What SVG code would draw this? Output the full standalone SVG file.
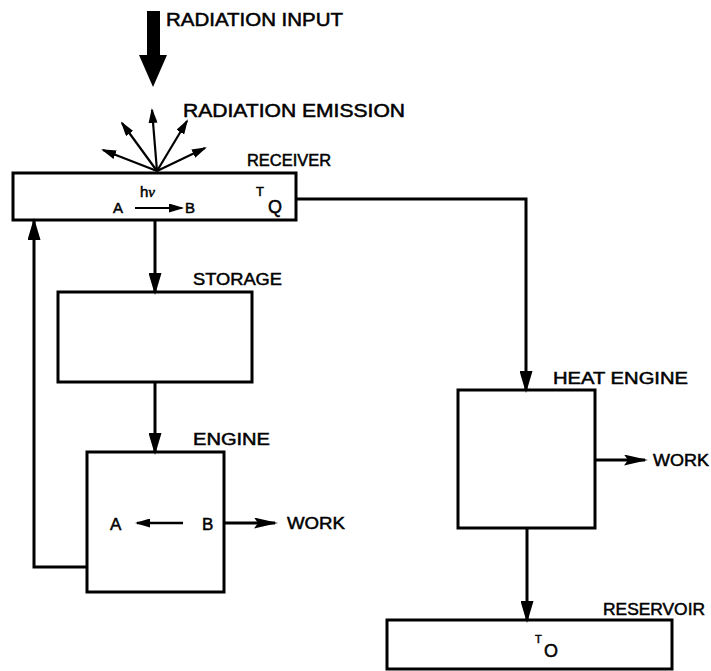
<svg xmlns="http://www.w3.org/2000/svg" width="711" height="671" viewBox="0 0 711 671">
<style>
.box{fill:#fff;stroke:#000;stroke-width:3}
.c{fill:none;stroke:#000;stroke-width:3}
.e{fill:none;stroke:#000;stroke-width:2.2}
.t{font-family:"Liberation Sans",Arial,sans-serif;fill:#000;stroke:#000;stroke-width:0.5}
</style>
<defs>
<marker id="ah" markerUnits="userSpaceOnUse" viewBox="0 0 22 13" markerWidth="22" markerHeight="13" refX="19" refY="6.5" orient="auto"><path d="M0,0 L22,6.5 L0,13 z" fill="#000"/></marker>
<marker id="aw" markerUnits="userSpaceOnUse" viewBox="0 0 24 11" markerWidth="24" markerHeight="11" refX="21" refY="5.5" orient="auto"><path d="M0,0 L24,5.5 L0,11 L4,5.5 z" fill="#000"/></marker>
<marker id="as" markerUnits="userSpaceOnUse" viewBox="0 0 15 9" markerWidth="15" markerHeight="9" refX="13" refY="4.5" orient="auto"><path d="M0,0 L15,4.5 L0,9 z" fill="#000"/></marker>
</defs>

<g id="radiation-input">
<rect x="147" y="11" width="13" height="45" fill="#000"/>
<polygon points="139,55 167,55 153,87" fill="#000"/>
<text class="t" x="166" y="26" font-size="18" textLength="177" lengthAdjust="spacingAndGlyphs">RADIATION INPUT</text>
</g>

<g id="radiation-emission">
<text class="t" x="183" y="117" font-size="18" textLength="222" lengthAdjust="spacingAndGlyphs">RADIATION EMISSION</text>
</g>

<g id="receiver">
<rect class="box" x="13" y="173" width="283" height="47"/>
<text class="t" x="247" y="166" font-size="16" textLength="84" lengthAdjust="spacingAndGlyphs">RECEIVER</text>
<text class="t" x="140" y="197" font-size="15">h<tspan font-family="'Liberation Serif',serif" font-style="italic">ν</tspan></text>
<text class="t" x="113" y="213" font-size="15">A</text>
<line x1="135" y1="208" x2="182" y2="208" stroke="#000" stroke-width="2" marker-end="url(#as)"/>
<text class="t" x="185" y="213" font-size="15">B</text>
<text class="t" x="256" y="196" font-size="13">T</text>
<text class="t" x="268" y="213" font-size="18">Q</text>
</g>

<g id="storage">
<rect class="box" x="58" y="292" width="194" height="90"/>
<text class="t" x="193" y="285" font-size="17" textLength="89" lengthAdjust="spacingAndGlyphs">STORAGE</text>
</g>

<g id="engine">
<rect class="box" x="87" y="452" width="137" height="140"/>
<text class="t" x="193" y="445" font-size="17" textLength="77" lengthAdjust="spacingAndGlyphs">ENGINE</text>
<text class="t" x="110" y="530" font-size="17">A</text>
<line x1="183" y1="523" x2="137" y2="523" stroke="#000" stroke-width="2.5" marker-end="url(#as)"/>
<text class="t" x="202" y="530" font-size="17">B</text>
</g>

<g id="heat-engine">
<rect class="box" x="458" y="390" width="137" height="138"/>
<text class="t" x="553" y="384" font-size="17" textLength="135" lengthAdjust="spacingAndGlyphs">HEAT ENGINE</text>
</g>

<g id="reservoir">
<rect class="box" x="387" y="620" width="285" height="49"/>
<text class="t" x="603" y="615" font-size="17" textLength="102" lengthAdjust="spacingAndGlyphs">RESERVOIR</text>
<text class="t" x="535" y="643" font-size="11">T</text>
<text class="t" x="544" y="657" font-size="18">O</text>
</g>

<g id="work-1">
<text class="t" x="287" y="529" font-size="17" textLength="58" lengthAdjust="spacingAndGlyphs">WORK</text>
</g>
<g id="work-2">
<text class="t" x="653" y="466" font-size="17" textLength="56" lengthAdjust="spacingAndGlyphs">WORK</text>
</g>

<g id="connectors">
<path class="c" d="M155,220 V292" marker-end="url(#ah)"/>
<path class="c" d="M155,382 V452" marker-end="url(#ah)"/>
<path class="c" d="M296,199 H526 V390" marker-end="url(#ah)"/>
<path class="c" d="M527,528 V620" marker-end="url(#ah)"/>
<path class="c" d="M87,567 H34 V221" marker-end="url(#ah)"/>
<path class="c" d="M224,523 H275" marker-end="url(#aw)"/>
<path class="c" d="M595,460 H645" marker-end="url(#aw)"/>
<path class="e" d="M157,171 L152,110" marker-end="url(#as)"/>
<path class="e" d="M157,171 L122,123" marker-end="url(#as)"/>
<path class="e" d="M157,171 L103,150" marker-end="url(#as)"/>
<path class="e" d="M157,171 L187,121" marker-end="url(#as)"/>
<path class="e" d="M157,171 L205,148" marker-end="url(#as)"/>
</g>
</svg>
